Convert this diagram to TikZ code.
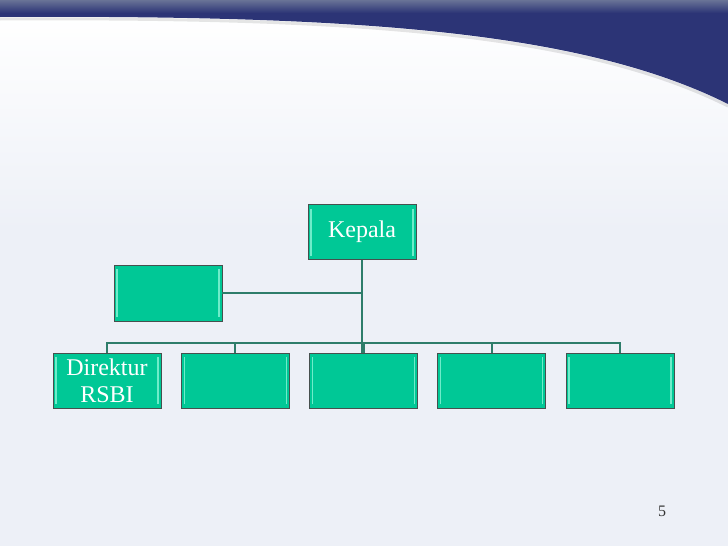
\documentclass[tikz,border=0pt]{standalone}
\usepackage{fontspec}
\setmainfont{Liberation Serif}
\usetikzlibrary{positioning}
\definecolor{boxgreen}{RGB}{0,200,150}
\definecolor{boxedge}{RGB}{70,80,78}
\definecolor{bevelgreen}{RGB}{110,236,202}
\definecolor{linkgreen}{RGB}{46,125,106}
\definecolor{slidebg}{RGB}{237,240,247}
\definecolor{navytop}{RGB}{105,115,150}
\definecolor{navybot}{RGB}{44,52,118}

\begin{document}
\begin{tikzpicture}[x=1pt, y=-1pt, node distance = 128.25pt, on grid,
	box/.style ={ rectangle, fill = boxgreen, draw = boxedge, line width = 0.8pt,
		text = white, minimum width = 108pt, minimum height = 55pt, inner sep = 0pt,
		align = center, font = \fontsize{24}{27}\selectfont,
		path picture = {
			\draw[bevelgreen, line width = 1.3pt]
			([xshift=3pt,yshift=-4pt]path picture bounding box.north west) --
			([xshift=3pt,yshift=4pt]path picture bounding box.south west);
			\draw[bevelgreen, line width = 1.3pt]
			([xshift=-3pt,yshift=-4pt]path picture bounding box.north east) --
			([xshift=-3pt,yshift=4pt]path picture bounding box.south east);}},
	link/.style ={ draw = linkgreen, line width = 2pt}]
	\useasboundingbox (0,0) rectangle (728,546);
	% slide background
	\fill[slidebg] (0,0) rectangle (728,546);
	\fill[top color = white, bottom color = slidebg] (0,15) rectangle (728,230);
	\draw[black, line width = 3pt, opacity = 0.1] (0,19)
		.. controls (350,17) and (580,32) .. (728,106);
	\begin{scope}
		\clip (0,0) -- (0,17) .. controls (350,15) and (580,30) .. (728,104)
			-- (728,0) -- cycle;
		\fill[navybot] (0,0) rectangle (728,110);
		\fill[top color = navytop, bottom color = navybot] (0,0) rectangle (728,13);
	\end{scope}
	% chart
	\node[box] (kepala) at (362,232) {Kepala};
	\node[box, minimum height = 56pt] (staf) at (168,293) {};
	\node[box] (d1) at (107,380.5) {Direktur\\RSBI};
	\node[box] (d2) [right = of d1] {};
	\node[box] (d3) [right = of d2] {};
	\node[box] (d4) [right = of d3] {};
	\node[box] (d5) [right = of d4] {};
	\draw[link] (kepala.south) -- (kepala.south |- d3.north);
	\draw[link] (staf.east) -- (staf.east -| kepala.south);
	\draw[link] (d1.north) -- ++(0,-10) -| (d5.north);
	\foreach \n in {d2,d3,d4}
		\draw[link] (\n.north) -- ++(0,-10);
	\node[text = black!80, font = \fontsize{16}{18}\selectfont] (page) at (662,511) {5};
\end{tikzpicture}
\end{document}
